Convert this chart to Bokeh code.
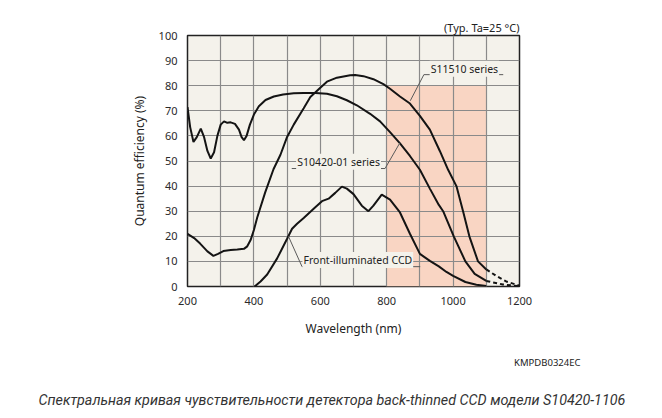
from bokeh.plotting import figure
from bokeh.models import FixedTicker, Label, Range1d, Title
from bokeh.embed import file_html
from bokeh.resources import INLINE

# ---- data ----
s10420_wl = [200, 208, 218, 228, 240, 250, 260, 270, 280, 290, 300, 310, 320, 330, 343, 355, 363,
             370, 378, 388, 400, 415, 435, 460, 488, 520, 550, 585, 620, 650, 680, 710, 750, 780,
             810, 840, 870, 900, 930, 957, 970, 1002, 1037, 1065, 1100]
s10420_qe = [71.5, 63.5, 57.6, 59.5, 62.9, 59.5, 54, 51, 53.5, 60, 64.5, 65.8, 65.2, 65.4, 64.8, 62.5,
             59.5, 58.3, 60, 64.5, 68.5, 71.8, 74.3, 75.7, 76.5, 77, 77.1, 77.1, 76.8, 75.8, 74.2, 72.2,
             68.8, 65.8, 61.5, 57, 52, 46.5, 39, 32.5, 30, 20, 10, 5, 2.2]
s10420_dash_wl = [1100, 1150, 1200]
s10420_dash_qe = [2.2, 0.8, 0.1]

s11510_wl = [200, 220, 238, 260, 278, 292, 308, 330, 350, 370, 380, 390, 400, 410, 434, 459, 480, 500,
             520, 550, 570, 600, 620, 650, 690, 705, 730, 760, 790, 810, 840, 870, 900, 930, 960, 985,
             1010, 1030, 1049, 1075, 1100]
s11510_qe = [21, 19.3, 17.1, 14, 12.2, 13, 14.1, 14.5, 14.7, 15, 16, 18.5, 22.5, 27.5, 37.5, 46.7, 52.5,
             59.6, 64.5, 71, 75.5, 79.2, 81.6, 83.2, 84.2, 84.3, 83.8, 82.6, 80.6, 78.8, 75.7, 72.9, 68,
             62.5, 54, 46.5, 40, 30, 20, 10, 6.8]
s11510_dash_wl = [1100, 1130, 1160, 1200]
s11510_dash_qe = [6.8, 4.2, 2.0, 0.3]

fi_wl = [402, 420, 440, 470, 500, 515, 530, 550, 580, 605, 625, 645, 665, 680, 700, 725, 745, 760, 785,
         810, 840, 870, 900, 930, 957, 980, 1000, 1037, 1070, 1100]
fi_qe = [0, 2, 4.8, 11.2, 19, 23, 25, 27.3, 31, 34, 35, 37.3, 39.8, 39, 36.8, 32.2, 30, 32.2, 36.6,
         34.6, 29.5, 21, 13, 10.2, 8, 5.8, 4.2, 1.8, 0.7, 0.2]

band_x = [800, 1100]
band_top = 80

x_ticks = [200, 400, 600, 800, 1000, 1200]
x_grid = list(range(200, 1201, 100))
y_ticks = list(range(0, 101, 10))

# annotation positions (label text centre, underline, leader)
lab_s11510 = dict(text="S11510 series", x=1034, y=86.8, ul=[912, 1151], uly=84.4, lead=[(912, 84.4), (871, 74)])
lab_s10420 = dict(text="S10420-01 series", x=655, y=49.7, ul=[514, 795], uly=47, lead=[(795, 47), (840, 57.3)])
lab_fi = dict(text="Front-illuminated CCD", x=713, y=10.6, ul=[545, 901], uly=7.9, lead=[(545, 7.9), (504, 20)])

BG = "#f4f2eb"
PINK = "#f9d5c3"
INK = "#141414"
GRAY = "#5a5a5a"

p = figure(width=654, height=415, x_range=Range1d(200, 1200), y_range=Range1d(0, 100),
           output_backend="svg", toolbar_location=None,
           min_border_left=187, min_border_right=135, min_border_top=35, min_border_bottom=128)
p.background_fill_color = BG
p.border_fill_color = "white"
p.outline_line_color = "#222222"
p.outline_line_width = 1.5

p.xaxis.ticker = FixedTicker(ticks=x_ticks)
p.yaxis.ticker = FixedTicker(ticks=y_ticks)
p.xgrid.ticker = FixedTicker(ticks=x_grid)
p.ygrid.ticker = FixedTicker(ticks=y_ticks)
for g in (p.xgrid, p.ygrid):
    g.grid_line_color = "#8a8a8a"
    g.grid_line_width = 1.2

for ax in (p.xaxis, p.yaxis):
    ax.axis_line_color = None
    ax.major_tick_line_color = None
    ax.minor_tick_line_color = None
    ax.major_label_text_font = "Noto Sans"
    ax.major_label_text_font_size = "11px"
    ax.major_label_text_color = "#2a2a2a"
    ax.axis_label_text_font = "Noto Sans"
    ax.axis_label_text_font_size = "12px"
    ax.axis_label_text_font_style = "normal"
    ax.axis_label_text_color = "#222222"
p.xaxis.major_label_standoff = 4
p.yaxis.major_label_standoff = 4
p.xaxis.axis_label = "Wavelength (nm)"
p.yaxis.axis_label = "Quantum efficiency (%)"
p.xaxis.axis_label_standoff = 12
p.yaxis.axis_label_standoff = 8

# pink band (beneath the grid)
p.quad(left=[band_x[0]], right=[band_x[1]], bottom=[0], top=[band_top],
       fill_color=PINK, line_color=None, level="image")

# curves
p.line(s10420_wl, s10420_qe, line_color=INK, line_width=2)
p.line(s11510_wl, s11510_qe, line_color=INK, line_width=2)
p.line(fi_wl, fi_qe, line_color=INK, line_width=2)
p.line(s10420_dash_wl, s10420_dash_qe, line_color=INK, line_width=2, line_dash="4 3")
p.line(s11510_dash_wl, s11510_dash_qe, line_color=INK, line_width=2, line_dash="4 3")

# labels with underline and leader
for lab in (lab_s11510, lab_s10420, lab_fi):
    p.add_layout(Label(x=lab["x"], y=lab["y"], text=lab["text"], text_align="center",
                       text_baseline="middle", text_font="Noto Sans", text_font_size="10.5px",
                       text_color="#222222", background_fill_color=BG, padding=1))
    p.line(lab["ul"], [lab["uly"], lab["uly"]], line_color=GRAY, line_width=1)
    p.line([lab["lead"][0][0], lab["lead"][1][0]], [lab["lead"][0][1], lab["lead"][1][1]],
           line_color=GRAY, line_width=1)

# texts outside the frame as titles
p.add_layout(Title(text="(Typ. Ta=25 °C)", align="right", text_font="Noto Sans", text_font_size="11px",
                   text_font_style="normal", text_color="#222222", standoff=2), "above")
p.add_layout(Title(text="KMPDB0324EC", align="right", offset=-61, text_font="Noto Sans",
                   text_font_size="9.5px", text_font_style="normal", text_color="#222222",
                   standoff=28), "below")
p.add_layout(Title(text="Спектральная кривая чувствительности детектора back-thinned CCD модели S10420-1106",
                   align="left", offset=-149, text_font="Roboto", text_font_style="italic",
                   text_font_size="14.3px", text_color="#333333", standoff=15), "below")

open("out.html", "w").write(file_html(p, INLINE))
